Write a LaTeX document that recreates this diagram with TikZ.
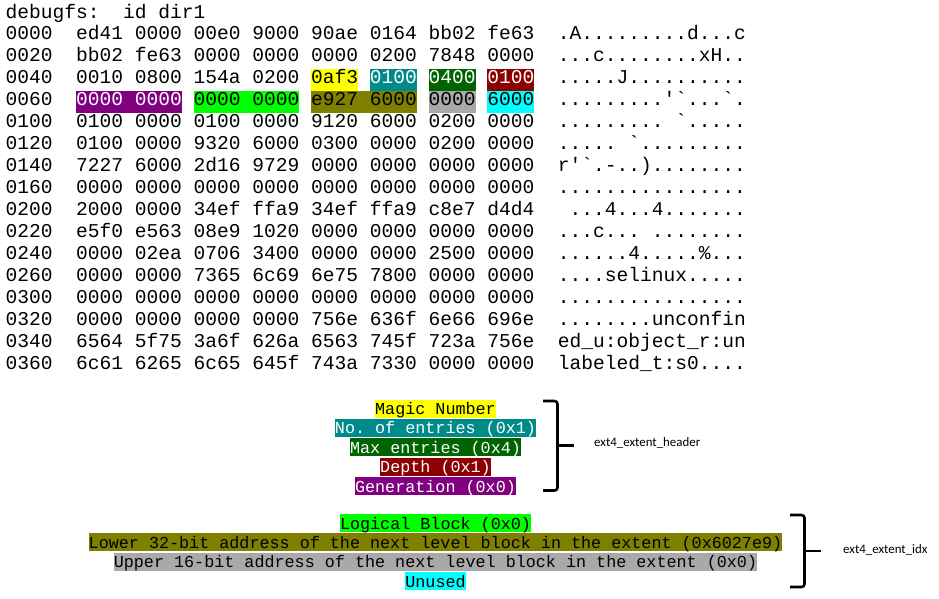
\documentclass[tikz,border=0pt]{standalone}
\usepackage{fontspec}
\setmonofont{Liberation Mono}
\newfontfamily\labelfont{Carlito}
\usepackage{xcolor}
\usepackage{tikz}
\usetikzlibrary{positioning}

\definecolor{hlyellow}{RGB}{255,255,0}
\definecolor{hlteal}{RGB}{0,139,139}
\definecolor{hlgreen}{RGB}{0,100,0}
\definecolor{hlred}{RGB}{139,0,0}
\definecolor{hlpurple}{RGB}{128,0,128}
\definecolor{hllime}{RGB}{0,255,0}
\definecolor{hlolive}{RGB}{128,128,0}
\definecolor{hlgray}{RGB}{169,169,169}
\definecolor{hlcyan}{RGB}{0,255,255}

\newcommand\hexfont{\ttfamily\fontsize{19.58}{22}\selectfont}
\newcommand\fieldfont{\ttfamily\fontsize{16.75}{19}\selectfont}

\begin{document}
\begin{tikzpicture}[x=1pt, y=-1pt,
    hexrow/.style = {anchor=base west, inner sep=0pt, font=\hexfont},
    hexmark/.style = {hexrow, text height=15pt, text depth=7pt},
    field/.style = {inner sep=0pt, text height=15pt, text depth=3pt,
                    font=\fieldfont},
    bracket/.style = {rounded corners=3pt, line width=2.6pt},
    structname/.style = {anchor=west, inner sep=0pt,
                         font=\labelfont\fontsize{12.9}{15}\selectfont}]
  \useasboundingbox (0,0) rectangle (939,598);

  \node (cmd) [hexrow] at (5.5,18) {debugfs:~~id dir1};
  \foreach \addr/\hex/\asc [count=\i from 0] in {
      0000/ed41 0000 00e0 9000 90ae 0164 bb02 fe63/{.A.........d...c},
      0020/bb02 fe63 0000 0000 0000 0200 7848 0000/{...c........xH..},
      0040/0010 0800 154a 0200 \phantom{0af3 0100 0400 0100}/{.....J..........},
      0060/\phantom{0000 0000 0000 0000 e927 6000 0000 6000}/{.........'`...`.},
      0100/0100 0000 0100 0000 9120 6000 0200 0000/{......... `.....},
      0120/0100 0000 9320 6000 0300 0000 0200 0000/{..... `.........},
      0140/7227 6000 2d16 9729 0000 0000 0000 0000/{r'`.-..)........},
      0160/0000 0000 0000 0000 0000 0000 0000 0000/{................},
      0200/2000 0000 34ef ffa9 34ef ffa9 c8e7 d4d4/{~...4...4.......},
      0220/e5f0 e563 08e9 1020 0000 0000 0000 0000/{...c... ........},
      0240/0000 02ea 0706 3400 0000 0000 2500 0000/{......4.....\%...},
      0260/0000 0000 7365 6c69 6e75 7800 0000 0000/{....selinux.....},
      0300/0000 0000 0000 0000 0000 0000 0000 0000/{................},
      0320/0000 0000 0000 0000 756e 636f 6e66 696e/{........unconfin},
      0340/6564 5f75 3a6f 626a 6563 745f 723a 756e/{ed\_u:object\_r:un},
      0360/6c61 6265 6c65 645f 743a 7330 0000 0000/{labeled\_t:s0....}}
    \node (row\i) [hexrow] at (5.5,39.5+22*\i) {\addr~~\hex~~\asc};

  \node (hxmagic) [hexmark, fill=hlyellow] at (311,83.5) {0af3};
  \node (hxentries) [hexmark, fill=hlteal, text=white] at (369.75,83.5) {0100};
  \node (hxmax) [hexmark, fill=hlgreen, text=white] at (428.5,83.5) {0400};
  \node (hxdepth) [hexmark, fill=hlred, text=white] at (487.25,83.5) {0100};
  \node (hxgen) [hexmark, fill=hlpurple, text=white] at (76,105.5) {0000 0000};
  \node (hxblock) [hexmark, fill=hllime] at (193.5,105.5) {0000 0000};
  \node (hxlower) [hexmark, fill=hlolive] at (311,105.5) {e927 6000};
  \node (hxupper) [hexmark, fill=hlgray] at (428.5,105.5) {0000};
  \node (hxunused) [hexmark, fill=hlcyan] at (487.25,105.5) {6000};

  \node (magic) [field, fill=hlyellow] at (435.5,408.5) {Magic Number};
  \node (entries) [field, fill=hlteal, text=white, below=1pt of magic]
    {No. of entries (0x1)};
  \node (maxent) [field, fill=hlgreen, text=white, below=1pt of entries]
    {Max entries (0x4)};
  \node (depth) [field, fill=hlred, text=white, below=1pt of maxent]
    {Depth (0x1)};
  \node (gen) [field, fill=hlpurple, text=white, below=1pt of depth]
    {Generation (0x0)};

  \node (lblock) [field, fill=hllime] at (435.5,523) {Logical Block (0x0)};
  \node (lower) [field, fill=hlolive, below=1pt of lblock]
    {Lower 32-bit address of the next level block in the extent (0x6027e9)};
  \node (upper) [field, fill=hlgray, below=1pt of lower]
    {Upper 16-bit address of the next level block in the extent (0x0)};
  \node (unused) [field, fill=hlcyan, below=1pt of upper] {Unused};

  \coordinate (hdrtop) at (543,401);
  \coordinate (hdrmid) at (557.5,445.5);
  \coordinate (hdrtip) at (573.5,445.5);
  \coordinate (hdrbot) at (543,490.5);
  \coordinate (idxtop) at (790,515);
  \coordinate (idxmid) at (804.5,551);
  \coordinate (idxtip) at (820.5,551);
  \coordinate (idxbot) at (790,587);
  \draw[bracket] (hdrtop) -| (hdrmid) |- (hdrbot);
  \draw[bracket] (hdrmid) -- (hdrtip);
  \draw[bracket] (idxtop) -| (idxmid) |- (idxbot);
  \draw[bracket] (idxmid) -- (idxtip);
  \node (hdrname) [structname] at (594,443) {ext4\_extent\_header};
  \node (idxname) [structname] at (843,550) {ext4\_extent\_idx};
\end{tikzpicture}
\end{document}
